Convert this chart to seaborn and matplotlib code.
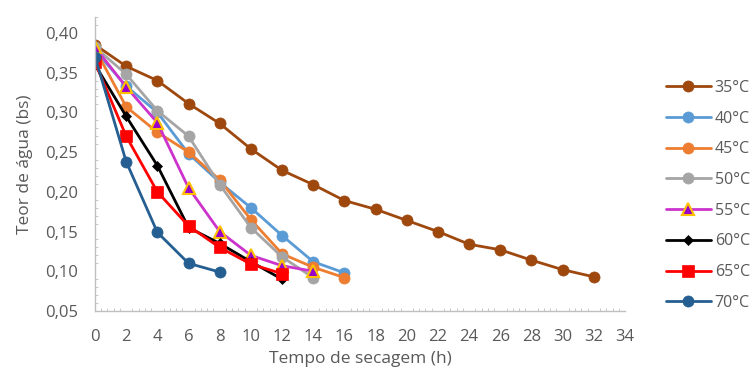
import numpy as np
import pandas as pd
import matplotlib
matplotlib.use("Agg")
import matplotlib.pyplot as plt
from matplotlib.ticker import MultipleLocator, FuncFormatter
import seaborn as sns

# drying time (h) and moisture content (dry basis) per temperature
t35 = [0, 2, 4, 6, 8, 10, 12, 14, 16, 18, 20, 22, 24, 26, 28, 30, 32]
y35 = [0.385, 0.358, 0.340, 0.311, 0.286, 0.254, 0.227, 0.209, 0.189, 0.178,
       0.164, 0.150, 0.134, 0.127, 0.114, 0.102, 0.093]
t40 = [0, 2, 4, 6, 8, 10, 12, 14, 16]
y40 = [0.378, 0.333, 0.300, 0.248, 0.212, 0.180, 0.145, 0.112, 0.098]
t45 = [0, 2, 4, 6, 8, 10, 12, 14, 16]
y45 = [0.380, 0.307, 0.275, 0.250, 0.215, 0.165, 0.122, 0.105, 0.092]
t50 = [0, 2, 4, 6, 8, 10, 12, 14]
y50 = [0.382, 0.348, 0.302, 0.270, 0.209, 0.155, 0.118, 0.092]
t55 = [0, 2, 4, 6, 8, 10, 12, 14]
y55 = [0.382, 0.332, 0.287, 0.205, 0.150, 0.120, 0.107, 0.100]
t60 = [0, 2, 4, 6, 8, 10, 12]
y60 = [0.360, 0.295, 0.233, 0.155, 0.135, 0.112, 0.090]
t65 = [0, 2, 4, 6, 8, 10, 12]
y65 = [0.363, 0.270, 0.200, 0.157, 0.130, 0.109, 0.097]
t70 = [0, 2, 4, 6, 8]
y70 = [0.370, 0.238, 0.149, 0.110, 0.099]

labels = ["35°C", "40°C", "45°C", "50°C", "55°C", "60°C", "65°C", "70°C"]

sns.set_style("white")
plt.rcParams["font.family"] = ["Open Sans", "DejaVu Sans"]

fig = plt.figure(figsize=(7.54, 3.67), dpi=100)
ax = fig.add_axes([95 / 754, (367 - 311) / 367, (625 - 95) / 754, (311 - 17) / 367])

# (times, values, line colour, marker, size, face, edge)
styles = [
    (t35, y35, "#9E480E", "o", 8, "#9E480E", "#9E480E"),
    (t40, y40, "#5B9BD5", "o", 8, "#5B9BD5", "#5B9BD5"),
    (t45, y45, "#ED7D31", "o", 8, "#ED7D31", "#ED7D31"),
    (t50, y50, "#A5A5A5", "o", 8, "#A5A5A5", "#A5A5A5"),
    (t55, y55, "#CC33CC", "^", 8, "#9900CC", "#FFC000"),
    (t60, y60, "#000000", "D", 5, "#000000", "#000000"),
    (t65, y65, "#FF0000", "s", 8, "#FF0000", "#FF0000"),
    (t70, y70, "#255E91", "o", 8, "#255E91", "#255E91"),
]

for (t, y, c, m, ms, fc, ec), lab in zip(styles, labels):
    sns.lineplot(x=t, y=y, ax=ax, color=c, linewidth=2, marker=m, markersize=ms,
                 markerfacecolor=fc, markeredgecolor=ec,
                 markeredgewidth=1.5 if m == "^" else 0.5, label=lab)

ax.set_xlim(0, 34)
ax.set_ylim(0.05, 0.42)
ax.xaxis.set_major_locator(MultipleLocator(2))
ax.xaxis.set_minor_locator(MultipleLocator(0.4))
ax.yaxis.set_major_locator(MultipleLocator(0.05))
ax.yaxis.set_minor_locator(MultipleLocator(0.01))
ax.yaxis.set_major_formatter(FuncFormatter(lambda v, p: f"{v:.2f}".replace(".", ",")))

for s in ["top", "right"]:
    ax.spines[s].set_visible(False)
for s in ["left", "bottom"]:
    ax.spines[s].set_color("#BFBFBF")
    ax.spines[s].set_linewidth(1)

ax.tick_params(axis="both", which="both", direction="in", colors="#BFBFBF",
               labelcolor="#595959", labelsize=12)
ax.tick_params(which="major", length=4)
ax.tick_params(which="minor", length=2.5, left=True, bottom=True)
ax.tick_params(axis="x", pad=13)
ax.tick_params(axis="y", pad=12)

ax.set_xlabel("Tempo de secagem (h)", fontsize=12.5, color="#595959", labelpad=4)
ax.set_ylabel("Teor de água (bs)", fontsize=12.5, color="#595959", labelpad=9)

leg = ax.legend(loc="upper left", bbox_to_anchor=(666 / 754, 1 - 80 / 367),
                bbox_transform=fig.transFigure, frameon=False, fontsize=11.5,
                labelspacing=0.92, handlelength=2.8, handletextpad=0.25,
                borderpad=0, borderaxespad=0)
for txt in leg.get_texts():
    txt.set_color("#595959")

fig.savefig("out.png", dpi=100)
